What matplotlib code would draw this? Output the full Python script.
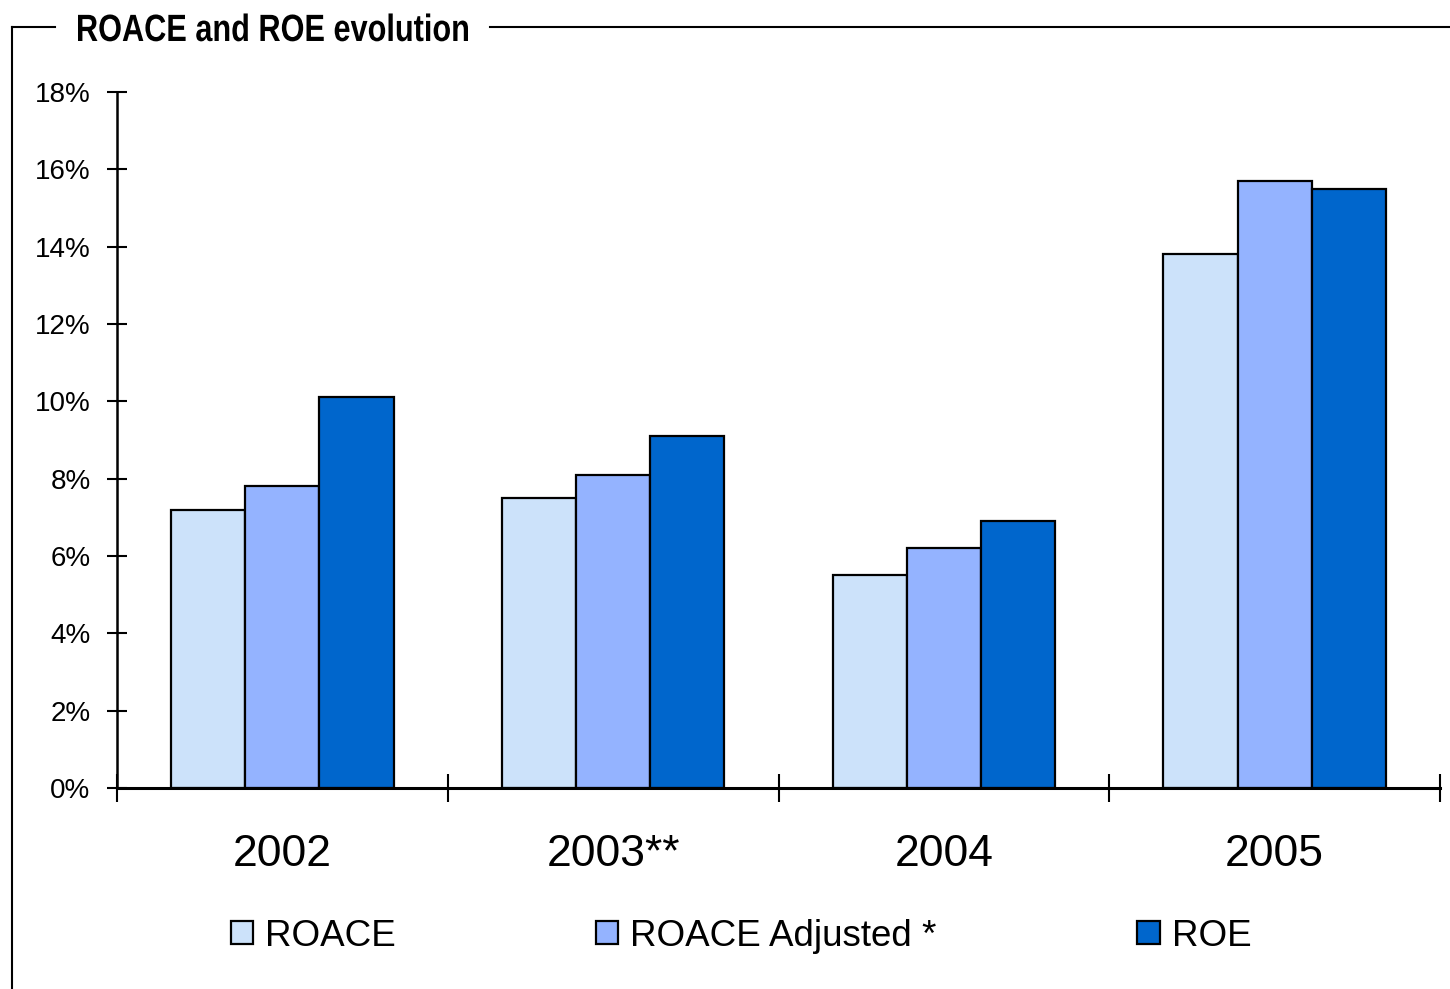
import numpy as np
import matplotlib.pyplot as plt
from matplotlib.lines import Line2D
from matplotlib.patches import Patch, PathPatch
from matplotlib.textpath import TextPath
from matplotlib.font_manager import FontProperties
from matplotlib.transforms import Affine2D

plt.rcParams['font.family'] = ['Liberation Sans', 'DejaVu Sans']

# Dane
lata = ['2002', '2003**', '2004', '2005']
roace = [7.2, 7.5, 5.5, 13.8]
roace_adj = [7.8, 8.1, 6.2, 15.7]
roe = [10.1, 9.1, 6.9, 15.5]
serie = ['ROACE', 'ROACE Adjusted *', 'ROE']
kolory = ['#CCE2FA', '#94B3FF', '#0066CC']
tytul = 'ROACE and ROE evolution'

W, H = 1450, 989
fig = plt.figure(figsize=(W / 100, H / 100), dpi=100)
ax = fig.add_axes([117 / W, 1 - 788 / H, (1440 - 117) / W, (788 - 92) / H])

x = np.arange(len(lata))
szer = 0.224
for i, (wart, kol) in enumerate(zip([roace, roace_adj, roe], kolory)):
    ax.bar(x + (i - 1) * szer, wart, width=szer, color=kol,
           edgecolor='black', linewidth=1.6, label=serie[i], zorder=2)

ax.set_xlim(-0.5, len(lata) - 0.5)
ax.set_ylim(0, 18)
ax.set_yticks(np.arange(0, 19, 2))
ax.set_yticklabels([f'{v}%' for v in range(0, 19, 2)], fontsize=20)
ax.set_xticks(x)
ax.set_xticklabels(lata, fontsize=32)
ax.set_xticks(np.arange(-0.5, len(lata), 1), minor=True)

ax.tick_params(axis='y', direction='inout', length=14, width=1.5, pad=12)
ax.tick_params(axis='x', which='major', length=0, pad=33)
ax.tick_params(axis='x', which='minor', direction='inout', length=20, width=1.5)

for s in ['top', 'right']:
    ax.spines[s].set_visible(False)
ax.spines['left'].set_linewidth(1.8)
ax.spines['bottom'].set_linewidth(2.2)

# Ramka z tytułem
yr = 1 - 27 / H
fig.add_artist(Line2D([12 / W, 12 / W], [yr, 0], color='black', lw=1.5))
fig.add_artist(Line2D([12 / W, 55 / W], [yr, yr], color='black', lw=1.5))
fig.add_artist(Line2D([490 / W, 1], [yr, yr], color='black', lw=1.5))

# Tytuł pisany zwężonym krojem (skalowanie ścieżki w poziomie)
sciezka = TextPath((0, 0), tytul, size=38,
                   prop=FontProperties(family='Liberation Sans', weight='bold'))
ext = sciezka.get_extents()
sx = (468 - 78) / ext.width
tr = Affine2D().translate(-ext.x0, 0).scale(sx, 1).translate(78, H - 41)
fig.add_artist(PathPatch(sciezka, facecolor='black', edgecolor='none', transform=tr))

# Legenda
uchwyty = [Patch(facecolor=k, edgecolor='black', linewidth=1.6) for k in kolory]
fig.legend(uchwyty, serie, loc='center', bbox_to_anchor=(741 / W, 1 - 936 / H),
           ncol=3, frameon=False, fontsize=26.5, handlelength=0.6,
           handleheight=0.6, handletextpad=0.33, columnspacing=5.45)

fig.savefig('out.png', dpi=100)
